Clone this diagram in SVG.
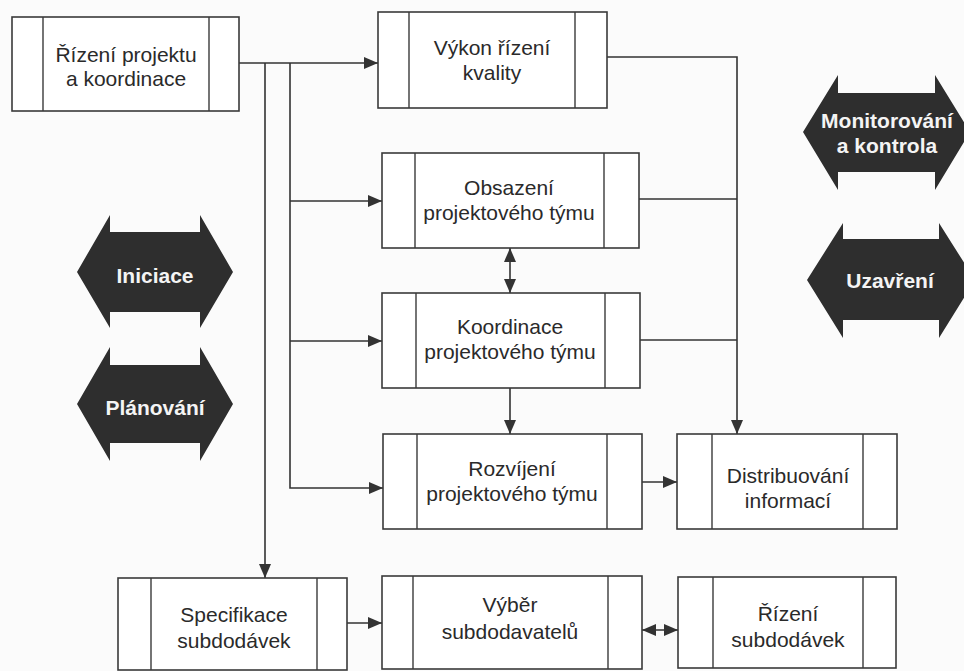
<svg xmlns="http://www.w3.org/2000/svg" width="964" height="671" viewBox="0 0 964 671">
<defs>
<style>
.box{fill:#ffffff;stroke:#3a3a3a;stroke-width:1.6}
.div{stroke:#3a3a3a;stroke-width:1.4}
.t{font-family:"Liberation Sans",Arial,sans-serif;font-size:21px;fill:#2a2a2a;text-anchor:middle}
.ht{font-family:"Liberation Sans",Arial,sans-serif;font-size:21px;font-weight:bold;fill:#f4f4f4;text-anchor:middle}
.hex{fill:#2e2e2e}
.c{fill:none;stroke:#333;stroke-width:1.6}
</style>
<marker id="ah" viewBox="0 0 14 12" refX="14" refY="6" markerWidth="14" markerHeight="12" markerUnits="userSpaceOnUse" orient="auto-start-reverse">
<path d="M0,0 L14,6 L0,12 Z" fill="#333"/>
</marker>
</defs>
<rect width="964" height="671" fill="#fbfbfb"/>

<g id="connectors">
<path class="c" d="M239,63 H378" marker-end="url(#ah)"/>
<path class="c" d="M265,63 V578" marker-end="url(#ah)"/>
<path class="c" d="M290,63 V488 H383" marker-end="url(#ah)"/>
<path class="c" d="M290,201 H382" marker-end="url(#ah)"/>
<path class="c" d="M290,341 H382" marker-end="url(#ah)"/>
<path class="c" d="M607,57 H737 V434" marker-end="url(#ah)"/>
<path class="c" d="M639,199 H737"/>
<path class="c" d="M640,340 H737"/>
<path class="c" d="M510,248 V293" marker-start="url(#ah)" marker-end="url(#ah)"/>
<path class="c" d="M510,388 V434" marker-end="url(#ah)"/>
<path class="c" d="M642,482 H677" marker-end="url(#ah)"/>
<path class="c" d="M347,623 H382" marker-end="url(#ah)"/>
<path class="c" d="M642,630 H678" marker-start="url(#ah)" marker-end="url(#ah)"/>
</g>

<g id="n-rizeni-projektu">
<rect class="box" x="12" y="17" width="227" height="94"/>
<line class="div" x1="43" y1="17" x2="43" y2="111"/>
<line class="div" x1="209" y1="17" x2="209" y2="111"/>
<text class="t" x="126" y="62">Řízení projektu</text>
<text class="t" x="126" y="86">a koordinace</text>
</g>

<g id="n-vykon">
<rect class="box" x="378" y="12" width="229" height="96"/>
<line class="div" x1="409" y1="12" x2="409" y2="108"/>
<line class="div" x1="575" y1="12" x2="575" y2="108"/>
<text class="t" x="492" y="55">Výkon řízení</text>
<text class="t" x="492" y="80">kvality</text>
</g>

<g id="n-obsazeni">
<rect class="box" x="382" y="153" width="257" height="95"/>
<line class="div" x1="415" y1="153" x2="415" y2="248"/>
<line class="div" x1="604" y1="153" x2="604" y2="248"/>
<text class="t" x="509" y="195">Obsazení</text>
<text class="t" x="509" y="220">projektového týmu</text>
</g>

<g id="n-koordinace">
<rect class="box" x="382" y="293" width="258" height="95"/>
<line class="div" x1="416" y1="293" x2="416" y2="388"/>
<line class="div" x1="605" y1="293" x2="605" y2="388"/>
<text class="t" x="510" y="334">Koordinace</text>
<text class="t" x="510" y="359">projektového týmu</text>
</g>

<g id="n-rozvijeni">
<rect class="box" x="383" y="434" width="259" height="95"/>
<line class="div" x1="417" y1="434" x2="417" y2="529"/>
<line class="div" x1="607" y1="434" x2="607" y2="529"/>
<text class="t" x="512" y="476">Rozvíjení</text>
<text class="t" x="512" y="501">projektového týmu</text>
</g>

<g id="n-distribuovani">
<rect class="box" x="677" y="434" width="220" height="95"/>
<line class="div" x1="712" y1="434" x2="712" y2="529"/>
<line class="div" x1="863" y1="434" x2="863" y2="529"/>
<text class="t" x="788" y="483">Distribuování</text>
<text class="t" x="788" y="508">informací</text>
</g>

<g id="n-specifikace">
<rect class="box" x="118" y="578" width="229" height="92"/>
<line class="div" x1="151" y1="578" x2="151" y2="670"/>
<line class="div" x1="317" y1="578" x2="317" y2="670"/>
<text class="t" x="234" y="622">Specifikace</text>
<text class="t" x="234" y="648">subdodávek</text>
</g>

<g id="n-vyber">
<rect class="box" x="382" y="576" width="260" height="93"/>
<line class="div" x1="413" y1="576" x2="413" y2="669"/>
<line class="div" x1="608" y1="576" x2="608" y2="669"/>
<text class="t" x="510" y="612">Výběr</text>
<text class="t" x="510" y="639">subdodavatelů</text>
</g>

<g id="n-rizeni-subdodavek">
<rect class="box" x="678" y="577" width="218" height="91"/>
<line class="div" x1="713" y1="577" x2="713" y2="668"/>
<line class="div" x1="863" y1="577" x2="863" y2="668"/>
<text class="t" x="788" y="621">Řízení</text>
<text class="t" x="788" y="647">subdodávek</text>
</g>

<g id="h-iniciace">
<path class="hex" d="M77,272 L110,215 V232 H200 V215 L233,272 L200,328 V312 H110 V328 Z"/>
<text class="ht" x="155" y="283">Iniciace</text>
</g>

<g id="h-planovani">
<path class="hex" d="M77,404 L110,347 V365 H200 V347 L233,404 L200,461 V443 H110 V461 Z"/>
<text class="ht" x="155" y="415">Plánování</text>
</g>

<g id="h-monitorovani">
<path class="hex" d="M803,132 L838,75 V93 H935 V75 L970,132 L935,190 V172 H838 V190 Z"/>
<text class="ht" x="887" y="128">Monitorování</text>
<text class="ht" x="887" y="153">a kontrola</text>
</g>

<g id="h-uzavreni">
<path class="hex" d="M807,280 L843,223 V239 H939 V223 L975,280 L939,338 V320 H843 V338 Z"/>
<text class="ht" x="890" y="288">Uzavření</text>
</g>
</svg>
